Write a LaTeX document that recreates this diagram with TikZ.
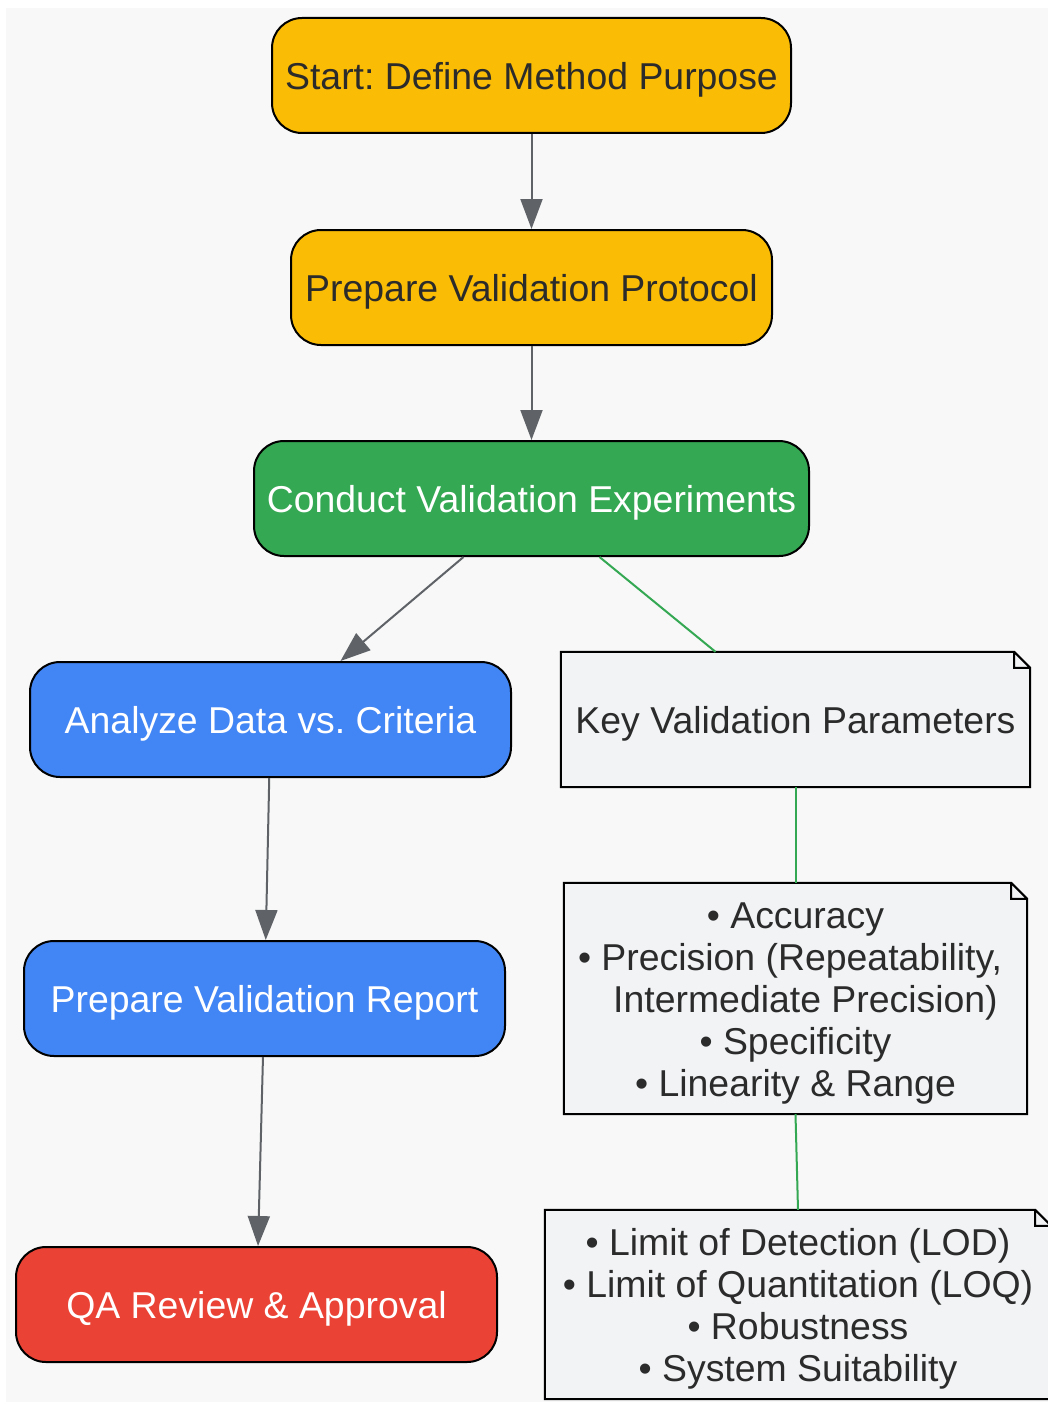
\documentclass[tikz,border=0pt]{standalone}
\usepackage{fontspec}
\setmainfont{Liberation Sans}
\usetikzlibrary{arrows.meta}
\definecolor{bgcol}{HTML}{F8F8F8}
\definecolor{ylw}{HTML}{FBBC05}
\definecolor{grn}{HTML}{34A853}
\definecolor{blu}{HTML}{4285F4}
\definecolor{rd}{HTML}{EA4335}
\definecolor{notefill}{HTML}{F1F3F5}
\definecolor{textdark}{HTML}{2B2B2B}
\definecolor{arrowgray}{HTML}{5F6368}
\newcommand{\topstrut}{\rule{0pt}{36.5pt}}
\newcommand{\botstrut}{\rule[-5.5pt]{0pt}{5.5pt}}
% outline of a note with its folded corner
\newcommand{\notefold}[1]{
  \fill[bgcol] ([xshift=-16pt]#1.north east) -- (#1.north east) -- ([yshift=-16pt]#1.north east) -- cycle;
  \draw[noteline] (#1.south west) -- (#1.north west) -- ([xshift=-16pt]#1.north east) -- ([yshift=-16pt]#1.north east) -- (#1.south east) -- cycle
    ([xshift=-16pt]#1.north east) |- ([yshift=-16pt]#1.north east);
}
\begin{document}
\frenchspacing
\begin{tikzpicture}[
    x=1pt, y=-1pt,
    every node/.append style={font=\fontsize{37.4}{42}\selectfont, align=center, execute at begin node=\topstrut, execute at end node=\botstrut},
    stepbox/.style={rectangle, rounded corners=30pt, draw=black, line width=2pt, minimum height=115pt},
    notebox/.style={rectangle, fill=notefill, text=textdark, inner sep=0pt},
    noteline/.style={draw=black, line width=2pt, line join=miter},
    flow/.style={draw=arrowgray, line width=2pt, -{Triangle[length=30pt, width=22pt]}},
    link/.style={draw=grn, line width=2pt}
  ]
  \useasboundingbox (0,0) rectangle (1048,1402);
  \fill[bgcol] (6,8) rectangle (1048,1402);

  % main steps
  \node [stepbox, fill=ylw, text=textdark, minimum width=519pt] (start) at (531.5,75.5) {Start: Define Method Purpose};
  \node [stepbox, fill=ylw, text=textdark, minimum width=481pt] (protocol) at (531.5,287.5) {Prepare Validation Protocol};
  \node [stepbox, fill=grn, text=white, minimum width=555pt] (conduct) at (531.5,498.5) {Conduct Validation Experiments};
  \node [stepbox, fill=blu, text=white, minimum width=481pt] (analyze) at (270.5,719.5) {Analyze Data vs. Criteria};
  \node [stepbox, fill=blu, text=white, minimum width=481pt] (report) at (264.5,998.5) {Prepare Validation Report};
  \node [stepbox, fill=rd, text=white, minimum width=481pt] (qa) at (256.5,1304.5) {QA Review \& Approval};

  % notes
  \node [notebox, minimum width=469pt, minimum height=135pt] (keyparams) at (795.5,719.5) {Key Validation Parameters};
  \node [notebox, minimum width=463pt, minimum height=231pt] (paramsA) at (795.5,998.5) {\topstrut• Accuracy\\• Precision (Repeatability,\rule{11pt}{0pt}\\\rule{20pt}{0pt}Intermediate Precision)\\• Specificity\\• Linearity \& Range\botstrut};
  \node [notebox, minimum width=506pt, minimum height=189pt] (paramsB) at (798,1304.5) {\topstrut• Limit of Detection (LOD)\\• Limit of Quantitation (LOQ)\\• Robustness\\• System Suitability\botstrut};
  \notefold{keyparams}
  \notefold{paramsA}
  \notefold{paramsB}

  \draw [flow] (start) -- (protocol);
  \draw [flow] (protocol) -- (conduct);
  \draw [flow] ([xshift=-68pt]conduct.south) -- ([xshift=70pt]analyze.north);
  \draw [flow] (analyze) -- (report);
  \draw [flow] (report) -- (qa);

  \draw [link] ([xshift=68pt]conduct.south) -- ([xshift=-80pt]keyparams.north);
  \draw [link] (keyparams) -- (paramsA);
  \draw [link] (paramsA.south) -- (paramsB.north);
\end{tikzpicture}
\end{document}
